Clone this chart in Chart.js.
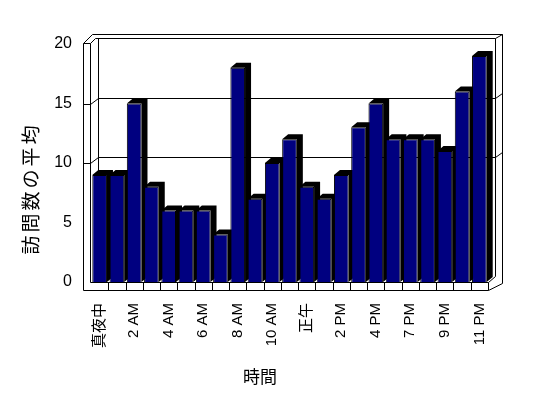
<!DOCTYPE html>
<html>
<head>
<meta charset="utf-8">
<script src="https://cdn.jsdelivr.net/npm/chart.js@4"></script>
<style>
  html, body { margin: 0; padding: 0; background: #fff; }
  #wrap { width: 548px; height: 398px; }
</style>
</head>
<body>
<div id="wrap"><canvas id="visitsChart" width="548" height="398"></canvas></div>
<script>
// --- DATA ---
// 23 hourly categories (one evening hour has no data in the source).
const hourLabels = [
    '真夜中', '1 AM', '2 AM', '3 AM', '4 AM', '5 AM', '6 AM', '7 AM', '8 AM', '9 AM', '10 AM', '11 AM',
    '正午', '1 PM', '2 PM', '3 PM', '4 PM', '5 PM', '7 PM', '8 PM', '9 PM', '10 PM', '11 PM'
];
const avgVisits = [9, 9, 15, 8, 6, 6, 6, 4, 18, 7, 10, 12, 8, 7, 9, 13, 15, 12, 12, 12, 11, 16, 19];
const yTicks = [0, 5, 10, 15, 20];
const gridValues = [10, 15];
const xTitle = '時間';
const yTitle = '訪問数の平均';

// --- 3D LOOK ---
// Chart.js has no 3D columns, so the walls, floor and the black depth faces are
// drawn by hand around the flat bars, all positioned from the chart's own scales.
const WALL_DX = 7, WALL_DY = -6;   // back wall offset from the front plane
const BAR_DX = 6, BAR_DY = -5;     // depth of each column
const WALL_T = 8;                  // thickness of the left wall / floor slab

function line(ctx, pts) {
    ctx.beginPath();
    ctx.moveTo(pts[0][0] + 0.5, pts[0][1] + 0.5);
    for (let i = 1; i < pts.length; i++) ctx.lineTo(pts[i][0] + 0.5, pts[i][1] + 0.5);
    ctx.stroke();
}

const frame3d = {
    id: 'frame3d',
    beforeDatasetsDraw(chart) {
        const { ctx, chartArea: a, scales: { x, y } } = chart;
        const L = Math.round(a.left), R = Math.round(a.right);
        const T = Math.round(a.top), B = Math.round(a.bottom);
        const x0 = L - WALL_T, x1 = L - 1;
        const backL = L + WALL_DX, backR = R + WALL_DX, backT = T + WALL_DY, backB = B + WALL_DY;
        const outT = T - 1 - 9, outR = R + 14;

        ctx.save();
        ctx.strokeStyle = '#000';
        ctx.lineWidth = 1;

        // left wall slab
        line(ctx, [[x0, B + WALL_T], [x0, T - 1], [x1, T - 1], [x1, B]]);
        line(ctx, [[x0, T - 1], [x0 + 9, outT], [outR, outT], [outR, B + 1]]);
        line(ctx, [[x1, T - 1], [x1 + 5, backT], [backR, backT], [backR, backB]]);
        line(ctx, [[backR, backT], [outR, outT]]);
        line(ctx, [[backL, backT], [backL, backB]]);

        // gridlines on back wall, wrapping over the side walls
        gridValues.forEach(v => {
            const yf = Math.round(y.getPixelForValue(v));
            const yb = yf + WALL_DY;
            line(ctx, [[x0, yf], [x1, yf], [backL, yb], [backR, yb], [outR, yb - 5]]);
        });

        // floor slab: front face split at the category boundaries
        line(ctx, [[x0, B + WALL_T], [R, B + WALL_T], [R, B], [x1, B]]);
        line(ctx, [[R, B + WALL_T], [outR, B + 1]]);
        line(ctx, [[R, B], [backR, backB]]);
        const step = (x.getPixelForValue(1) - x.getPixelForValue(0));
        for (let i = 1; i < hourLabels.length; i++) {
            const xb = Math.round(x.getPixelForValue(i) - step / 2);
            line(ctx, [[xb, B], [xb, B + WALL_T]]);
        }

        // black top + side faces of each column
        ctx.fillStyle = '#000';
        chart.getDatasetMeta(0).data.forEach(el => {
            const { x: cx, y: top, base, width } = el.getProps(['x', 'y', 'base', 'width'], true);
            const left = cx - width / 2, right = cx + width / 2;
            ctx.beginPath();
            ctx.moveTo(left, top);
            ctx.lineTo(left + BAR_DX, top + BAR_DY);
            ctx.lineTo(right + BAR_DX, top + BAR_DY);
            ctx.lineTo(right + BAR_DX, base + BAR_DY);
            ctx.lineTo(right, base);
            ctx.lineTo(right, top);
            ctx.closePath();
            ctx.fill();
        });
        ctx.restore();
    },
    afterDraw(chart) {
        const { ctx } = chart;
        ctx.save();
        ctx.fillStyle = '#000';
        ctx.font = '17px "Noto Sans CJK JP", sans-serif';
        ctx.textAlign = 'center';
        ctx.textBaseline = 'middle';
        ctx.fillText(xTitle, 260, 377);

        // vertical axis title, characters spaced out like the original
        ctx.font = '19px "Noto Sans CJK JP", sans-serif';
        ctx.translate(31, 190);
        ctx.rotate(-Math.PI / 2);
        const gap = 22;
        const chars = Array.from(yTitle);
        chars.forEach((ch, i) => {
            ctx.fillText(ch, (i - (chars.length - 1) / 2) * gap, 0);
        });
        ctx.restore();
    }
};

new Chart(document.getElementById('visitsChart'), {
    type: 'bar',
    data: {
        labels: hourLabels,
        datasets: [{
            data: avgVisits,
            backgroundColor: '#000080',
            borderColor: '#000',
            borderWidth: 1,
            barPercentage: 0.85,
            categoryPercentage: 1,
        }],
    },
    options: {
        responsive: false,
        animation: false,
        devicePixelRatio: 1,
        layout: { padding: { top: 44, right: 60, left: 0, bottom: 0 } },
        plugins: { legend: { display: false }, tooltip: { enabled: false } },
        scales: {
            x: {
                grid: { display: false, drawTicks: false },
                border: { display: false },
                ticks: {
                    autoSkip: false,
                    minRotation: 90,
                    maxRotation: 90,
                    padding: 21,
                    color: '#000',
                    font: { family: '"Liberation Sans", "Noto Sans CJK JP", sans-serif', size: 15 },
                    callback: (v, i) => (i % 2 === 0 ? hourLabels[i] : ''),
                },
                afterFit: s => { s.height = 398 - 282; },
            },
            y: {
                min: 0,
                max: 20,
                afterBuildTicks: s => { s.ticks = yTicks.map(v => ({ value: v })); },
                grid: { display: false, drawTicks: false },
                border: { display: false },
                ticks: {
                    padding: 19,
                    color: '#000',
                    font: { family: '"Liberation Sans", sans-serif', size: 16 },
                },
                afterFit: s => { s.width = 91; },
            },
        },
    },
    plugins: [frame3d],
});
</script>
</body>
</html>
